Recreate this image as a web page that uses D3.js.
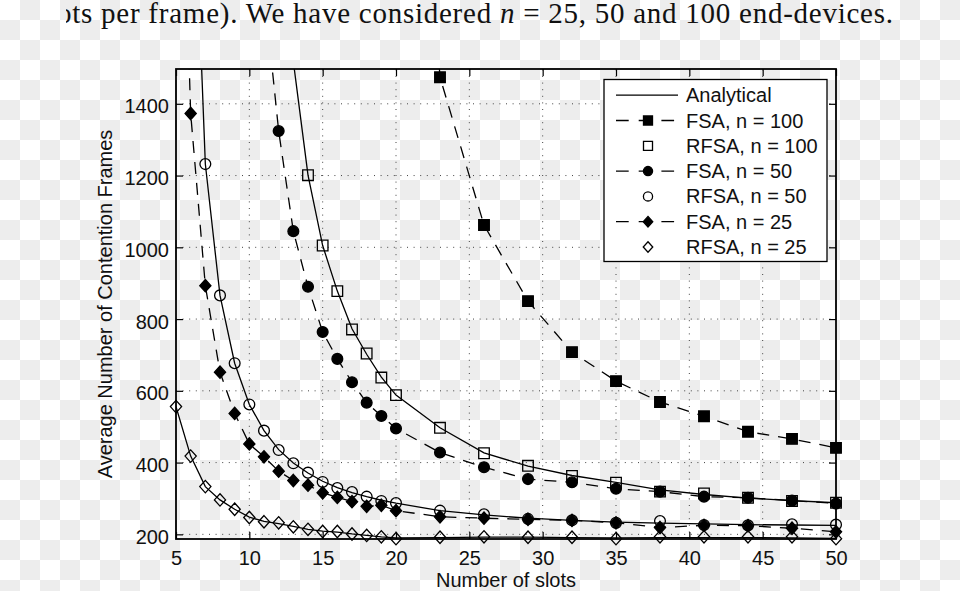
<!DOCTYPE html>
<html><head><meta charset="utf-8">
<script src="https://cdn.jsdelivr.net/npm/d3@7"></script>
<style>html,body{margin:0;padding:0;background:#fff;}svg{display:block}</style>
</head><body><svg id="c" width="960" height="591"></svg>
<script>
// ---- data ----
const slots = [5,6,7,8,9,10,11,12,13,14,15,16,17,18,19,20,23,26,29,32,35,38,41,44,47,50];
const xTicks = [5,10,15,20,25,30,35,40,45,50];
const yTicks = [200,400,600,800,1000,1200,1400];
const N = null;
const fsa100  = [N,N,N,N,N,N,N,N,N,N,N,N,N,N,N,3200, 1474,1062,850,708,627,569,529,486,466,441];
const rfsa100 = [N,N,N,N,N,N,N,N,N,1201,1005,878,771,704,637,588, 497,426,391,363,344,319,314,302,293,288];
const ana100  = [N,N,N,N,N,N,N,N,1518,1201,1005,878,773,702,638,588, 497,427,390,364,345,324,311,301,294,288];
const fsa50   = [N,N,N,N,N,N,1720,1324,1045,890,764,689,624,567,530,495, 428,387,354,345,327,319,305,302,294,286];
const rfsa50  = [N,N,1232,866,677,562,489,435,398,372,346,329,318,305,293,287, 266,256,243,239,232,237,226,225,228,227];
const ana50   = [N,2290,1232,866,677,562,489,436,399,371,348,330,316,305,295,287, 266,254,245,239,234,231,229,227,226,225];
const fsa25   = [2700,1373,893,652,537,452,416,376,350,337,316,303,291,278,281,266, 249,245,242,239,232,219,225,224,217,207];
const rfsa25  = [556,418,333,296,270,247,235,232,221,214,208,208,201,197,193,188, 192,193,192,192,188,193,193,193,193,188];
const ana25   = [556,418,333,296,270,248,236,230,222,214,209,206,201,197,193,190, 191,192,192,191,190,191,191,191,190,189];
const legendLabels = ["Analytical","FSA, n = 100","RFSA, n = 100","FSA, n = 50","RFSA, n = 50","FSA, n = 25","RFSA, n = 25"];
const xLabel = "Number of slots";
const yLabel = "Average Number of Contention Frames";

// ---- setup ----
const svg = d3.select("#c");
const W = 960, H = 591;
const L = 176, R = 836, T = 69, B = 539;
const font = "'Liberation Sans', Arial, Helvetica, sans-serif";
const x = d3.scaleLinear().domain([5,50]).range([L,R]);
const y = d3.scaleLinear().domain([187,1497]).range([B,T]);

const defs = svg.append("defs");
const pat = defs.append("pattern").attr("id","chk").attr("width",40).attr("height",40).attr("patternUnits","userSpaceOnUse");
pat.append("rect").attr("width",40).attr("height",40).attr("fill","#fff");
pat.append("rect").attr("x",20).attr("y",0).attr("width",20).attr("height",20).attr("fill","#ededed");
pat.append("rect").attr("x",0).attr("y",20).attr("width",20).attr("height",20).attr("fill","#ededed");
svg.append("rect").attr("width",W).attr("height",H).attr("fill","url(#chk)");

defs.append("clipPath").attr("id","plotclip").append("rect").attr("x",L).attr("y",T).attr("width",R-L).attr("height",B-T);
defs.append("clipPath").attr("id","topclip").append("rect").attr("x",66).attr("y",0).attr("width",W).attr("height",60);

// top caption text (cropped on the left, as in the source image)
const cap = svg.append("text").attr("x",57).attr("y",22.7)
  .attr("textLength",836).attr("lengthAdjust","spacing")
  .attr("clip-path","url(#topclip)")
  .style("font-family","'Liberation Serif','Times New Roman',serif").style("font-size","29px").attr("fill","#111");
cap.append("tspan").text("ots per frame). We have considered ");
cap.append("tspan").style("font-style","italic").text("n");
cap.append("tspan").text(" = 25, 50 and 100 end-devices.");

// grid
const grid = svg.append("g").attr("stroke","#444").attr("stroke-width",1).attr("stroke-dasharray","1,5.6");
grid.selectAll(".gx").data(xTicks.filter(t => t>5 && t<50)).join("line")
  .attr("x1",d=>x(d)).attr("x2",d=>x(d)).attr("y1",B).attr("y2",T);
grid.selectAll(".gy").data(yTicks).join("line")
  .attr("y1",d=>y(d)).attr("y2",d=>y(d)).attr("x1",L).attr("x2",R);

// axes
function styleAxis(g){
  g.select(".domain").remove();
  g.selectAll(".tick line").attr("stroke","#000").attr("stroke-width",1.2);
  g.selectAll(".tick text").style("font-family",font).style("font-size","20px").attr("fill","#111");
}
svg.append("g").attr("transform",`translate(0,${B})`)
  .call(d3.axisBottom(x).tickValues(xTicks).tickSizeInner(-7).tickSizeOuter(0).tickPadding(12).tickFormat(d3.format("d")))
  .call(styleAxis);
svg.append("g").attr("transform",`translate(0,${T})`)
  .call(d3.axisTop(x).tickValues(xTicks).tickSizeInner(-7).tickSizeOuter(0).tickFormat(""))
  .call(styleAxis);
const ya = svg.append("g").attr("transform",`translate(${L},0)`)
  .call(d3.axisLeft(y).tickValues(yTicks).tickSizeInner(-7).tickSizeOuter(0).tickPadding(7).tickFormat(d3.format("d")))
  .call(styleAxis);
ya.selectAll(".tick text").attr("dy","0.45em");
svg.append("g").attr("transform",`translate(${R},0)`)
  .call(d3.axisRight(y).tickValues(yTicks).tickSizeInner(-7).tickSizeOuter(0).tickFormat(""))
  .call(styleAxis);

// box
svg.append("rect").attr("x",L).attr("y",T).attr("width",R-L).attr("height",B-T)
  .attr("fill","none").attr("stroke","#000").attr("stroke-width",1.8);

// labels
svg.append("text").attr("x",(L+R)/2).attr("y",587).attr("text-anchor","middle")
  .style("font-family",font).style("font-size","20px").attr("fill","#111").text(xLabel);
svg.append("text").attr("transform",`translate(112,${(T+B)/2}) rotate(-90)`).attr("text-anchor","middle")
  .style("font-family",font).style("font-size","20px").attr("fill","#111").text(yLabel);

// series
const pts = arr => slots.map((s,i)=>({s, v:arr[i]})).filter(d=>d.v!==null);
const line = d3.line().x(d=>x(d.s)).y(d=>y(d.v));
const lineG = svg.append("g").attr("clip-path","url(#plotclip)").attr("fill","none").attr("stroke","#000").attr("stroke-width",1.3);
[ana100, ana50, ana25].forEach(a => lineG.append("path").attr("d", line(pts(a))));
[fsa100, fsa50, fsa25].forEach(a => lineG.append("path").attr("d", line(pts(a))).attr("stroke-dasharray","12,9"));

function symPath(type, k){
  if(type==="square"){ const s=5.3*k; return `M${-s},${-s}h${2*s}v${2*s}h${-2*s}Z`; }
  if(type==="circle"){ return d3.symbol(d3.symbolCircle, Math.PI*Math.pow(5.4*k,2))(); }
  const w=5.6*k, h=6.2*k; return `M0,${-h}L${w},0L0,${h}L${-w},0Z`;
}
const series = [
  {a:fsa100, t:"square", f:true},
  {a:rfsa100, t:"square", f:false},
  {a:fsa50, t:"circle", f:true},
  {a:rfsa50, t:"circle", f:false},
  {a:fsa25, t:"diamond", f:true},
  {a:rfsa25, t:"diamond", f:false}
];
const mk = svg.append("g");
series.forEach(se => {
  mk.append("g").selectAll("path").data(pts(se.a).filter(d=>d.v<=1497)).join("path")
    .attr("transform", d=>`translate(${x(d.s)},${y(d.v)})`)
    .attr("d", symPath(se.t,1))
    .attr("fill", se.f ? "#000" : "none").attr("stroke","#000").attr("stroke-width",1.3);
});

// legend
const lg = svg.append("g");
lg.append("rect").attr("x",604).attr("y",79.5).attr("width",223).attr("height",182)
  .attr("fill","#fff").attr("stroke","#000").attr("stroke-width",1.3);
const rowY = i => 95.2 + i*25.3;
legendLabels.forEach((lab,i) => {
  const yy = rowY(i);
  lg.append("text").attr("x",686).attr("y",yy).attr("dy","0.35em")
    .style("font-family",font).style("font-size","20px").attr("fill","#111").text(lab);
  if(i===0){
    lg.append("line").attr("x1",616).attr("x2",678).attr("y1",yy).attr("y2",yy).attr("stroke","#000").attr("stroke-width",1.3);
  } else {
    const se = series[i-1];
    if(se.f){
      lg.append("line").attr("x1",616).attr("x2",678).attr("y1",yy).attr("y2",yy)
        .attr("stroke","#000").attr("stroke-width",1.3).attr("stroke-dasharray","12.7,10");
    }
    lg.append("path").attr("transform",`translate(648,${yy})`).attr("d",symPath(se.t,0.85))
      .attr("fill", se.f ? "#000" : "none").attr("stroke","#000").attr("stroke-width",1.3);
  }
});
</script>
</body></html>
